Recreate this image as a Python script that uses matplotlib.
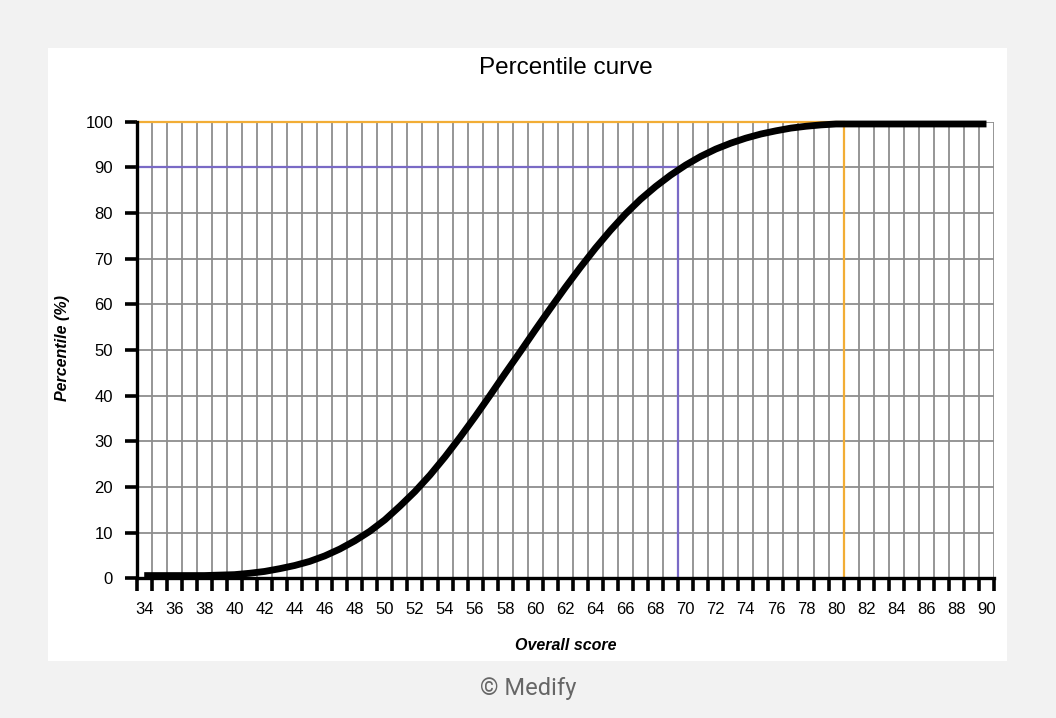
import matplotlib.pyplot as plt
import numpy as np
from matplotlib.patches import Rectangle


# percentile, one value per whole score 34..90
SCORES = list(range(34, 91))
PERCENTILE = [
    0.6, 0.6, 0.6, 0.6, 0.6, 0.7, 0.8, 1.1, 1.5, 2.1,
    2.8, 3.7, 4.9, 6.4, 8.2, 10.3, 12.8, 15.8, 19.0, 22.6,
    26.6, 30.9, 35.4, 40.1, 44.9, 49.6, 54.4, 59.1, 63.7, 68.1,
    72.3, 76.2, 79.8, 83.0, 85.8, 88.3, 90.5, 92.4, 94.0, 95.3,
    96.4, 97.3, 98.0, 98.6, 99.0, 99.3, 99.5, 99.5, 99.5, 99.5,
    99.5, 99.5, 99.5, 99.5, 99.5, 99.5, 99.5,
]
Y_TICKS = list(range(0, 101, 10))
X_LABELS = list(range(34, 91, 2))

# guide lines: (score, percentile, colour)
GUIDES = [
    (69.5, 90, "#7a6ac6"),
    (80.5, 100, "#f2ad35"),
]

TITLE = "Percentile curve"
X_TITLE = "Overall score"
Y_TITLE = "Percentile (%)"
CREDIT = "\u00a9 Medify"

W, H = 1056, 718
BG = "#f2f2f2"
GRID = "#8e8e8e"


def main() -> None:
    plt.rcParams["font.family"] = ["Liberation Sans", "DejaVu Sans"]

    fig = plt.figure(figsize=(W / 100, H / 100), dpi=100, facecolor=BG)
    fig.patches.append(
        Rectangle((48 / W, 1 - 661 / H), 959 / W, 613 / H,
                  transform=fig.transFigure, facecolor="white",
                  edgecolor="none", zorder=-5)
    )

    ax = fig.add_axes([136.7 / W, 1 - 578.3 / H, (994 - 136.7) / W, (578.3 - 121.7) / H])
    ax.set_facecolor("white")
    x_lo, x_hi = SCORES[0] - 0.5, SCORES[-1] + 0.5
    ax.set_xlim(x_lo, x_hi)
    ax.set_ylim(0, 100)

    # category style axis: labels sit between the tick marks
    ax.set_xticks(X_LABELS)
    ax.set_xticklabels([str(v) for v in X_LABELS])
    ax.set_xticks(np.arange(x_lo, x_hi + 0.01, 1), minor=True)
    ax.tick_params(axis="x", which="major", length=0, pad=17, labelsize=12)
    ax.tick_params(axis="x", which="minor", length=9, width=2.6, direction="out", color="black")
    ax.set_yticks(Y_TICKS)
    ax.tick_params(axis="y", length=9, width=2.6, pad=8, labelsize=12)

    ax.grid(which="minor", axis="x", color=GRID, lw=1.3)
    ax.grid(which="major", axis="y", color=GRID, lw=1.3)
    ax.set_axisbelow(True)

    for side in ("top", "right"):
        ax.spines[side].set_visible(False)
    for side in ("left", "bottom"):
        ax.spines[side].set_linewidth(2.4)
        ax.spines[side].set_zorder(5)

    for score, pct, colour in GUIDES:
        ax.plot([x_lo, score, score], [pct, pct, 0], color=colour, lw=1.6,
                zorder=3, clip_on=False, solid_joinstyle="miter")

    ax.plot(SCORES, PERCENTILE, color="black", lw=4.9, zorder=4,
            solid_capstyle="butt", solid_joinstyle="round", clip_on=False)

    fig.text(566 / W, 1 - 68 / H, TITLE, ha="center", va="center", fontsize=17.5)
    fig.text(566 / W, 1 - 645 / H, X_TITLE, ha="center", va="center",
             fontsize=11.5, fontweight="bold", fontstyle="italic")
    fig.text(63 / W, 1 - 348 / H, Y_TITLE, ha="center", va="center", rotation=90,
             fontsize=11.5, fontweight="bold", fontstyle="italic")
    fig.text(528 / W, 1 - 688 / H, CREDIT, ha="center", va="center",
             fontsize=17, color="#666666", family=["Roboto", "DejaVu Sans"])

    fig.savefig("out.png", dpi=100, facecolor=BG)
    plt.close(fig)


if __name__ == "__main__":
    main()
